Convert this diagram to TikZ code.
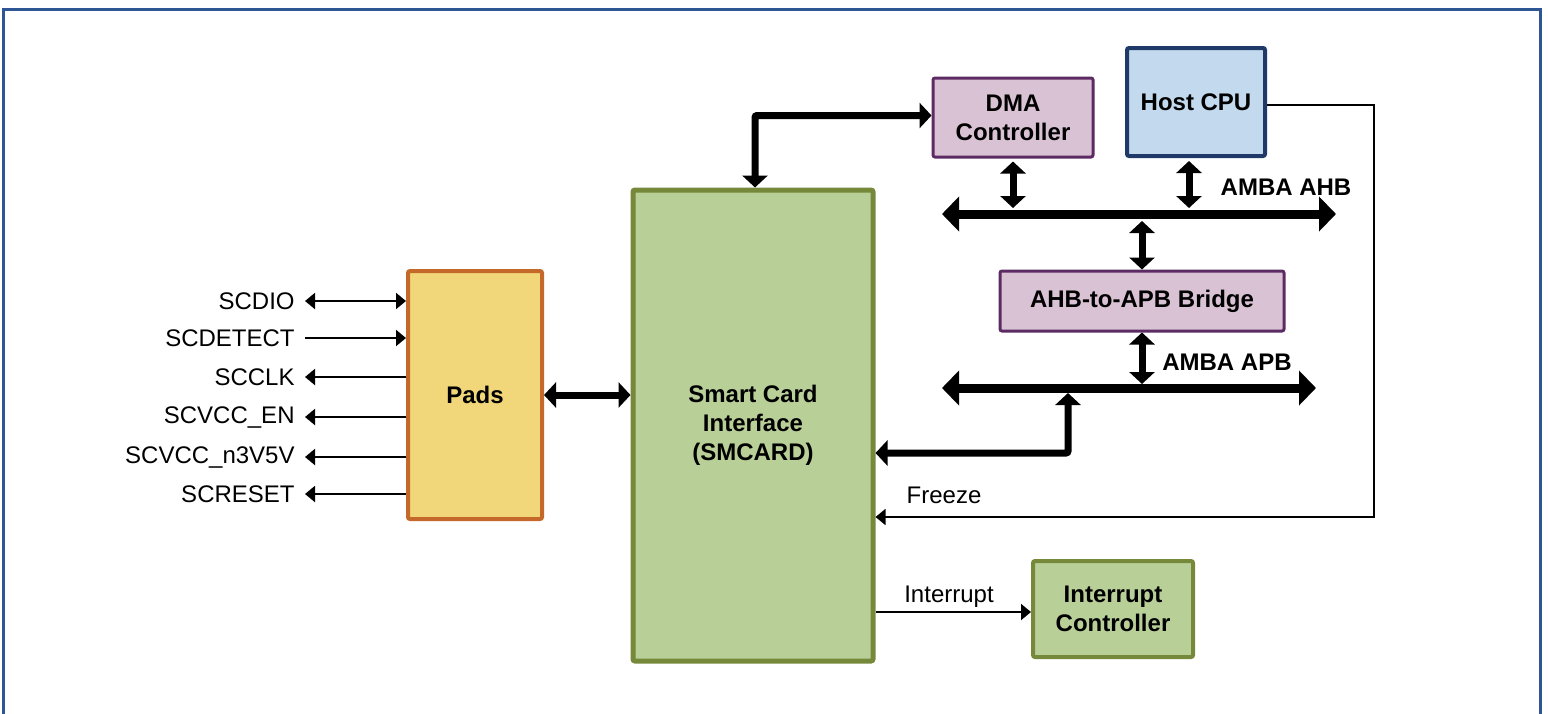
\documentclass[tikz,border=0pt]{standalone}
\usepackage{fontspec}
\setmainfont{Liberation Sans}
\usetikzlibrary{arrows.meta}
\definecolor{frameblue}{HTML}{2E5594}
\definecolor{padfill}{HTML}{F2D67A}
\definecolor{paddraw}{HTML}{C4692A}
\definecolor{smcfill}{HTML}{B9CF98}
\definecolor{smcdraw}{HTML}{76883A}
\definecolor{dmafill}{HTML}{D9C2D3}
\definecolor{dmadraw}{HTML}{5C2B64}
\definecolor{cpufill}{HTML}{C3D9ED}
\definecolor{cpudraw}{HTML}{1F3A68}
\begin{document}
\begin{tikzpicture}[x=.5pt,y=-.5pt,
  font=\fontsize{12}{14.5}\selectfont,
  blk/.style={draw,line width=1.5pt,rounded corners=1pt,align=center,inner sep=0pt,
    font=\fontsize{12}{14.5}\selectfont\bfseries},
  bus/.style={line width=4.5pt,{Triangle[length=8.5pt,width=17pt]}-{Triangle[length=8.5pt,width=17pt]}},
  link/.style={line width=3.5pt,{Triangle[length=6pt,width=12.5pt]}-{Triangle[length=6pt,width=12.5pt]}},
  sig/.style={line width=1pt},
  tip/.tip={Triangle[length=5pt,width=8pt]}]
\useasboundingbox (0,0) rectangle (1548,713);
\draw[frameblue,line width=1.5pt] (3,9) rectangle (1540,730);
%
% blocks
\node[blk,fill=padfill,draw=paddraw,line width=2pt,minimum width=67pt,minimum height=124pt]
  (pads) at (475,395) {Pads};
\node[blk,fill=smcfill,draw=smcdraw,line width=2.5pt,minimum width=120pt,minimum height=235.5pt]
  (smc) at (753,425.5) {Smart Card\\Interface\\(SMCARD)};
\node[blk,fill=dmafill,draw=dmadraw,minimum width=80pt,minimum height=39.5pt]
  (dma) at (1013,117.5) {DMA\\Controller};
\node[blk,fill=cpufill,draw=cpudraw,line width=2pt,minimum width=69pt,minimum height=54pt]
  (cpu) at (1196,102) {Host CPU};
\node[blk,fill=dmafill,draw=dmadraw,minimum width=142pt,minimum height=30pt]
  (bridge) at (1142,301) {AHB-to-APB Bridge};
\node[blk,fill=smcfill,draw=smcdraw,line width=2pt,minimum width=80pt,minimum height=48pt]
  (intc) at (1113,609) {Interrupt\\Controller};
%
% buses
\coordinate (ahbL) at (942,214);
\coordinate (ahbR) at (1336,214);
\coordinate (apbL) at (942,388);
\coordinate (apbR) at (1316,388);
\draw[bus] (ahbL) -- (ahbR);
\draw[bus] (apbL) -- (apbR);
\node[font=\fontsize{12}{14.5}\selectfont\bfseries] (ahblbl) at (1286,187) {AMBA AHB};
\node[font=\fontsize{12}{14.5}\selectfont\bfseries] (apblbl) at (1227,362) {AMBA APB};
%
\draw[link,shorten <=1.5pt,shorten >=3pt] (dma.south) -- (dma.south |- ahbL);
\draw[link,shorten <=1.5pt,shorten >=3pt] ([xshift=-3.5pt]cpu.south) -- ([xshift=-3.5pt]cpu.south |- ahbL);
\draw[link,shorten <=3.5pt] (bridge.north |- ahbL) -- (bridge.north);
\draw[link,shorten >=2pt] (bridge.south) -- (bridge.south |- apbL);
\draw[link,rounded corners=1pt] ([xshift=1pt]smc.north) |- ([yshift=1pt]dma.west);
\coordinate (tap) at (1068,388);
\draw[link,rounded corners=1pt,shorten >=2.5pt] ([yshift=-13.75pt]smc.east) -| (tap);
\draw[link] (pads.east) -- (pads.east -| smc.west);
%
% thin signals
\coordinate (frz) at (1374,517);
\draw[sig,line width=.8pt,-tip] ([yshift=-1.5pt]cpu.east) -| (frz) -- (frz -| smc.east);
\node (frzlbl) at (944,495) {Freeze};
\draw[sig,-tip] ([yshift=-1.5pt]intc.west -| smc.east) -- ([yshift=-1.5pt]intc.west);
\node (intlbl) at (949,597) {Interrupt};
%
\foreach \lbl/\yy/\ar [count=\i] in {SCDIO/301/{tip-tip},SCDETECT/338/{-tip},SCCLK/377/{tip-},%
SCVCC\_EN/417/{tip-},SCVCC\_n3V5V/457/{tip-},SCRESET/494/{tip-}}
{
\node[anchor=east,inner xsep=5pt,inner ysep=0pt] (s\i) at (305,\yy) {\lbl};
\draw[sig,\ar] (s\i.east) -- (s\i.east -| pads.west);
}
\end{tikzpicture}
\end{document}
